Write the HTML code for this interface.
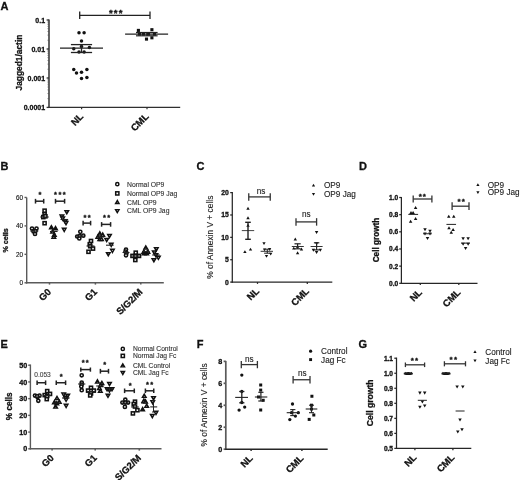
<!DOCTYPE html>
<html><head><meta charset="utf-8"><title>Figure</title>
<style>
html,body{margin:0;padding:0;background:#fff;}
body{width:520px;height:480px;overflow:hidden;}
svg{display:block;filter:blur(0.3px);font-family:"Liberation Sans",Arial,Helvetica,sans-serif;}
</style></head><body>
<svg width="520" height="480" viewBox="0 0 520 480">
<rect width="520" height="480" fill="#fff"/>
<text x="0.5" y="9.5" font-size="11" font-weight="bold" text-anchor="start" fill="#111" stroke="#111" stroke-width="0.3">A</text>
<line x1="49" y1="19.6" x2="49" y2="108" stroke="#303030" stroke-width="1.5"/>
<line x1="46.6" y1="20" x2="49" y2="20" stroke="#303030" stroke-width="1.3"/>
<line x1="46.6" y1="49" x2="49" y2="49" stroke="#303030" stroke-width="1.3"/>
<line x1="46.6" y1="78" x2="49" y2="78" stroke="#303030" stroke-width="1.3"/>
<line x1="46.6" y1="107.4" x2="49" y2="107.4" stroke="#303030" stroke-width="1.3"/>
<line x1="47.6" y1="98.64" x2="49" y2="98.64" stroke="#555" stroke-width="0.9"/>
<line x1="47.6" y1="93.52" x2="49" y2="93.52" stroke="#555" stroke-width="0.9"/>
<line x1="47.6" y1="89.88" x2="49" y2="89.88" stroke="#555" stroke-width="0.9"/>
<line x1="47.6" y1="87.06" x2="49" y2="87.06" stroke="#555" stroke-width="0.9"/>
<line x1="47.6" y1="84.76" x2="49" y2="84.76" stroke="#555" stroke-width="0.9"/>
<line x1="47.6" y1="82.81" x2="49" y2="82.81" stroke="#555" stroke-width="0.9"/>
<line x1="47.6" y1="81.12" x2="49" y2="81.12" stroke="#555" stroke-width="0.9"/>
<line x1="47.6" y1="79.63" x2="49" y2="79.63" stroke="#555" stroke-width="0.9"/>
<line x1="47.6" y1="69.24" x2="49" y2="69.24" stroke="#555" stroke-width="0.9"/>
<line x1="47.6" y1="64.12" x2="49" y2="64.12" stroke="#555" stroke-width="0.9"/>
<line x1="47.6" y1="60.48" x2="49" y2="60.48" stroke="#555" stroke-width="0.9"/>
<line x1="47.6" y1="57.66" x2="49" y2="57.66" stroke="#555" stroke-width="0.9"/>
<line x1="47.6" y1="55.36" x2="49" y2="55.36" stroke="#555" stroke-width="0.9"/>
<line x1="47.6" y1="53.41" x2="49" y2="53.41" stroke="#555" stroke-width="0.9"/>
<line x1="47.6" y1="51.72" x2="49" y2="51.72" stroke="#555" stroke-width="0.9"/>
<line x1="47.6" y1="50.23" x2="49" y2="50.23" stroke="#555" stroke-width="0.9"/>
<line x1="47.6" y1="40.24" x2="49" y2="40.24" stroke="#555" stroke-width="0.9"/>
<line x1="47.6" y1="35.12" x2="49" y2="35.12" stroke="#555" stroke-width="0.9"/>
<line x1="47.6" y1="31.48" x2="49" y2="31.48" stroke="#555" stroke-width="0.9"/>
<line x1="47.6" y1="28.66" x2="49" y2="28.66" stroke="#555" stroke-width="0.9"/>
<line x1="47.6" y1="26.36" x2="49" y2="26.36" stroke="#555" stroke-width="0.9"/>
<line x1="47.6" y1="24.41" x2="49" y2="24.41" stroke="#555" stroke-width="0.9"/>
<line x1="47.6" y1="22.72" x2="49" y2="22.72" stroke="#555" stroke-width="0.9"/>
<line x1="47.6" y1="21.23" x2="49" y2="21.23" stroke="#555" stroke-width="0.9"/>
<text x="45.1" y="22.5" font-size="7" font-weight="bold" text-anchor="end" fill="#111" stroke="#111" stroke-width="0.3">0.1</text>
<text x="45.1" y="51.5" font-size="7" font-weight="bold" text-anchor="end" fill="#111" stroke="#111" stroke-width="0.3">0.01</text>
<text x="45.1" y="80.5" font-size="7" font-weight="bold" text-anchor="end" fill="#111" stroke="#111" stroke-width="0.3">0.001</text>
<text x="45.1" y="109.9" font-size="7" font-weight="bold" text-anchor="end" fill="#111" stroke="#111" stroke-width="0.3">0.0001</text>
<text x="22" y="62.6" font-size="8.4" font-weight="bold" text-anchor="middle" fill="#111" stroke="#111" stroke-width="0.3" transform="rotate(-90 22 62.6)">Jagged1/actin</text>
<line x1="48.4" y1="107.4" x2="180.2" y2="107.4" stroke="#303030" stroke-width="1.2"/>
<line x1="81.6" y1="107.4" x2="81.6" y2="109.2" stroke="#303030" stroke-width="1.2"/>
<line x1="147" y1="107.4" x2="147" y2="109.2" stroke="#303030" stroke-width="1.2"/>
<text x="83.9" y="117.2" font-size="9.5" font-weight="bold" text-anchor="end" fill="#111" stroke="#111" stroke-width="0.3" transform="rotate(-45 83.9 117.2)">NL</text>
<text x="149.3" y="117.2" font-size="9.5" font-weight="bold" text-anchor="end" fill="#111" stroke="#111" stroke-width="0.3" transform="rotate(-45 149.3 117.2)">CML</text>
<line x1="79.7" y1="15.3" x2="150" y2="15.3" stroke="#222" stroke-width="1.3"/>
<line x1="79.7" y1="11.6" x2="79.7" y2="19" stroke="#222" stroke-width="1.3"/>
<line x1="150" y1="11.6" x2="150" y2="19" stroke="#222" stroke-width="1.3"/>
<text x="110.8" y="15.9" font-size="9.6" font-weight="bold" text-anchor="middle" fill="#111" stroke="#111" stroke-width="0.3">*</text>
<text x="115.7" y="15.9" font-size="9.6" font-weight="bold" text-anchor="middle" fill="#111" stroke="#111" stroke-width="0.3">*</text>
<text x="120.6" y="15.9" font-size="9.6" font-weight="bold" text-anchor="middle" fill="#111" stroke="#111" stroke-width="0.3">*</text>
<circle cx="79" cy="32.75" r="1.75" fill="#111"/>
<circle cx="84.1" cy="32.75" r="1.75" fill="#111"/>
<circle cx="81.5" cy="41" r="1.75" fill="#111"/>
<circle cx="81.5" cy="46.5" r="1.75" fill="#111"/>
<circle cx="73.75" cy="48.75" r="1.75" fill="#111"/>
<circle cx="89.4" cy="47.5" r="1.75" fill="#111"/>
<circle cx="79" cy="51.9" r="1.75" fill="#111"/>
<circle cx="84.1" cy="51.9" r="1.75" fill="#111"/>
<circle cx="73.75" cy="69.4" r="1.75" fill="#111"/>
<circle cx="86.9" cy="69.4" r="1.75" fill="#111"/>
<circle cx="76.5" cy="73.1" r="1.75" fill="#111"/>
<circle cx="81.5" cy="72.25" r="1.75" fill="#111"/>
<circle cx="81.5" cy="78.5" r="1.75" fill="#111"/>
<circle cx="86.9" cy="77.5" r="1.75" fill="#111"/>
<line x1="60" y1="48.1" x2="103" y2="48.1" stroke="#222" stroke-width="1.2"/>
<line x1="70.9" y1="44.6" x2="92.1" y2="44.6" stroke="#222" stroke-width="1.3"/>
<line x1="70.9" y1="52.5" x2="92.1" y2="52.5" stroke="#222" stroke-width="1.3"/>
<line x1="81.5" y1="44.6" x2="81.5" y2="52.5" stroke="#222" stroke-width="1.3"/>
<rect x="136.85" y="28.85" width="3.1" height="3.1" fill="#111"/>
<rect x="150.35" y="28.15" width="3.1" height="3.1" fill="#111"/>
<rect x="150.35" y="36.25" width="3.1" height="3.1" fill="#111"/>
<rect x="144.95" y="37.55" width="3.1" height="3.1" fill="#111"/>
<rect x="137.95" y="32.55" width="3.1" height="3.1" fill="#111"/>
<rect x="141.95" y="32.55" width="3.1" height="3.1" fill="#111"/>
<rect x="146.95" y="32.55" width="3.1" height="3.1" fill="#111"/>
<rect x="152.95" y="32.55" width="3.1" height="3.1" fill="#111"/>
<line x1="125.1" y1="34.1" x2="168.1" y2="34.1" stroke="#222" stroke-width="1.2"/>
<line x1="136" y1="32.5" x2="157.6" y2="32.5" stroke="#222" stroke-width="1.2"/>
<line x1="136" y1="35.8" x2="157.6" y2="35.8" stroke="#222" stroke-width="1.2"/>
<line x1="146.8" y1="32.5" x2="146.8" y2="35.8" stroke="#222" stroke-width="1.2"/>
<text x="0.6" y="170.3" font-size="11" font-weight="bold" text-anchor="start" fill="#111" stroke="#111" stroke-width="0.3">B</text>
<line x1="26.7" y1="197.6" x2="26.7" y2="283.4" stroke="#5a5a5a" stroke-width="1.4"/>
<line x1="24.5" y1="197.45" x2="26.7" y2="197.45" stroke="#5a5a5a" stroke-width="1.4"/>
<text x="23.05" y="199.71" font-size="6.3" text-anchor="end" fill="#111" stroke="#111" stroke-width="0.12">60</text>
<line x1="24.5" y1="225.9" x2="26.7" y2="225.9" stroke="#5a5a5a" stroke-width="1.4"/>
<text x="23.05" y="228.16" font-size="6.3" text-anchor="end" fill="#111" stroke="#111" stroke-width="0.12">40</text>
<line x1="24.5" y1="254.35" x2="26.7" y2="254.35" stroke="#5a5a5a" stroke-width="1.4"/>
<text x="23.05" y="256.61" font-size="6.3" text-anchor="end" fill="#111" stroke="#111" stroke-width="0.12">20</text>
<line x1="24.5" y1="282.8" x2="26.7" y2="282.8" stroke="#5a5a5a" stroke-width="1.4"/>
<text x="23.05" y="285.06" font-size="6.3" text-anchor="end" fill="#111" stroke="#111" stroke-width="0.12">0</text>
<text x="8.2" y="240.4" font-size="7.2" font-weight="bold" text-anchor="middle" fill="#111" stroke="#111" stroke-width="0.3" transform="rotate(-90 8.2 240.4)">% cells</text>
<line x1="26.1" y1="282.8" x2="163.8" y2="282.8" stroke="#5a5a5a" stroke-width="1.5"/>
<line x1="49.5" y1="282.8" x2="49.5" y2="284.6" stroke="#5a5a5a" stroke-width="1.5"/>
<line x1="95.4" y1="282.8" x2="95.4" y2="284.6" stroke="#5a5a5a" stroke-width="1.5"/>
<line x1="140.8" y1="282.8" x2="140.8" y2="284.6" stroke="#5a5a5a" stroke-width="1.5"/>
<text x="51.8" y="292.6" font-size="9.5" font-weight="bold" text-anchor="end" fill="#111" stroke="#111" stroke-width="0.3" transform="rotate(-45 51.8 292.6)">G0</text>
<text x="97.7" y="292.6" font-size="9.5" font-weight="bold" text-anchor="end" fill="#111" stroke="#111" stroke-width="0.3" transform="rotate(-45 97.7 292.6)">G1</text>
<text x="143.1" y="292.6" font-size="9.5" font-weight="bold" text-anchor="end" fill="#111" stroke="#111" stroke-width="0.3" transform="rotate(-45 143.1 292.6)">S/G2/M</text>
<line x1="35.5" y1="201.2" x2="43.7" y2="201.2" stroke="#222" stroke-width="1.5"/>
<line x1="35.5" y1="198.85" x2="35.5" y2="203.55" stroke="#222" stroke-width="1.5"/>
<line x1="43.7" y1="198.85" x2="43.7" y2="203.55" stroke="#222" stroke-width="1.5"/>
<text x="39.9" y="197.22" font-size="7.5" font-weight="bold" text-anchor="middle" fill="#111" stroke="#111" stroke-width="0.3">*</text>
<line x1="55.5" y1="201.2" x2="64.6" y2="201.2" stroke="#222" stroke-width="1.5"/>
<line x1="55.5" y1="198.85" x2="55.5" y2="203.55" stroke="#222" stroke-width="1.5"/>
<line x1="64.6" y1="198.85" x2="64.6" y2="203.55" stroke="#222" stroke-width="1.5"/>
<text x="55.5" y="197.32" font-size="7.5" font-weight="bold" text-anchor="middle" fill="#111" stroke="#111" stroke-width="0.3">*</text>
<text x="59.85" y="197.32" font-size="7.5" font-weight="bold" text-anchor="middle" fill="#111" stroke="#111" stroke-width="0.3">*</text>
<text x="64.2" y="197.32" font-size="7.5" font-weight="bold" text-anchor="middle" fill="#111" stroke="#111" stroke-width="0.3">*</text>
<line x1="83.1" y1="223.1" x2="90.6" y2="223.1" stroke="#222" stroke-width="1.5"/>
<line x1="83.1" y1="220.8" x2="83.1" y2="225.4" stroke="#222" stroke-width="1.5"/>
<line x1="90.6" y1="220.8" x2="90.6" y2="225.4" stroke="#222" stroke-width="1.5"/>
<text x="84.85" y="220.12" font-size="7.5" font-weight="bold" text-anchor="middle" fill="#111" stroke="#111" stroke-width="0.3">*</text>
<text x="89.15" y="220.12" font-size="7.5" font-weight="bold" text-anchor="middle" fill="#111" stroke="#111" stroke-width="0.3">*</text>
<line x1="101.6" y1="224.4" x2="110.6" y2="224.4" stroke="#222" stroke-width="1.5"/>
<line x1="101.6" y1="222.1" x2="101.6" y2="226.7" stroke="#222" stroke-width="1.5"/>
<line x1="110.6" y1="222.1" x2="110.6" y2="226.7" stroke="#222" stroke-width="1.5"/>
<text x="104.35" y="220.12" font-size="7.5" font-weight="bold" text-anchor="middle" fill="#111" stroke="#111" stroke-width="0.3">*</text>
<text x="108.65" y="220.12" font-size="7.5" font-weight="bold" text-anchor="middle" fill="#111" stroke="#111" stroke-width="0.3">*</text>
<circle cx="117.3" cy="184.2" r="1.6" fill="#fff" stroke="#111" stroke-width="1.5"/>
<text x="127" y="186.6" font-size="6.8" text-anchor="start" fill="#333" stroke="#333" stroke-width="0.12">Normal OP9</text>
<rect x="115.7" y="191.8" width="3.2" height="3.2" fill="#fff" stroke="#111" stroke-width="1.5"/>
<text x="127" y="195.8" font-size="6.8" text-anchor="start" fill="#333" stroke="#333" stroke-width="0.12">Normal OP9 Jag</text>
<polygon points="117.3,200.53 115.6,203.48 119,203.48" fill="#fff" stroke="#111" stroke-width="1.45" stroke-linejoin="miter"/>
<text x="127" y="204.7" font-size="6.8" text-anchor="start" fill="#333" stroke="#333" stroke-width="0.12">CML OP9</text>
<polygon points="117.3,212.57 115.6,209.62 119,209.62" fill="#fff" stroke="#111" stroke-width="1.45" stroke-linejoin="miter"/>
<text x="127" y="213.2" font-size="6.8" text-anchor="start" fill="#333" stroke="#333" stroke-width="0.12">CML OP9 Jag</text>
<circle cx="32" cy="228.5" r="1.6" fill="#fff" stroke="#111" stroke-width="1.55"/>
<circle cx="36.5" cy="228.5" r="1.6" fill="#fff" stroke="#111" stroke-width="1.55"/>
<circle cx="33.5" cy="231.5" r="1.6" fill="#fff" stroke="#111" stroke-width="1.55"/>
<circle cx="35.5" cy="231" r="1.6" fill="#fff" stroke="#111" stroke-width="1.55"/>
<circle cx="35" cy="234" r="1.6" fill="#fff" stroke="#111" stroke-width="1.55"/>
<rect x="43.05" y="209.15" width="3.1" height="3.1" fill="#fff" stroke="#111" stroke-width="1.55"/>
<rect x="43.05" y="212.75" width="3.1" height="3.1" fill="#fff" stroke="#111" stroke-width="1.55"/>
<rect x="41.75" y="215.55" width="3.1" height="3.1" fill="#fff" stroke="#111" stroke-width="1.55"/>
<rect x="43.85" y="214.75" width="3.1" height="3.1" fill="#fff" stroke="#111" stroke-width="1.55"/>
<rect x="43.05" y="221.65" width="3.1" height="3.1" fill="#fff" stroke="#111" stroke-width="1.55"/>
<polygon points="51.4,225.72 49.6,228.85 53.2,228.85" fill="#fff" stroke="#111" stroke-width="1.47" stroke-linejoin="miter"/>
<polygon points="55.5,226.52 53.7,229.65 57.3,229.65" fill="#fff" stroke="#111" stroke-width="1.47" stroke-linejoin="miter"/>
<polygon points="52.6,229.82 50.8,232.95 54.4,232.95" fill="#fff" stroke="#111" stroke-width="1.47" stroke-linejoin="miter"/>
<polygon points="54.3,233.02 52.5,236.15 56.1,236.15" fill="#fff" stroke="#111" stroke-width="1.47" stroke-linejoin="miter"/>
<polygon points="53.8,235.02 52,238.15 55.6,238.15" fill="#fff" stroke="#111" stroke-width="1.47" stroke-linejoin="miter"/>
<polygon points="66.8,213.78 65,210.65 68.6,210.65" fill="#fff" stroke="#111" stroke-width="1.47" stroke-linejoin="miter"/>
<polygon points="61.9,218.18 60.1,215.05 63.7,215.05" fill="#fff" stroke="#111" stroke-width="1.47" stroke-linejoin="miter"/>
<polygon points="62.7,220.18 60.9,217.05 64.5,217.05" fill="#fff" stroke="#111" stroke-width="1.47" stroke-linejoin="miter"/>
<polygon points="65.2,223.08 63.4,219.95 67,219.95" fill="#fff" stroke="#111" stroke-width="1.47" stroke-linejoin="miter"/>
<polygon points="66,224.68 64.2,221.55 67.8,221.55" fill="#fff" stroke="#111" stroke-width="1.47" stroke-linejoin="miter"/>
<polygon points="64.2,231.48 62.4,228.35 66,228.35" fill="#fff" stroke="#111" stroke-width="1.47" stroke-linejoin="miter"/>
<line x1="40.3" y1="217" x2="48.7" y2="217" stroke="#222" stroke-width="1.1"/>
<line x1="30.3" y1="231" x2="38.3" y2="231" stroke="#222" stroke-width="1.1"/>
<line x1="50" y1="231.5" x2="57.6" y2="231.5" stroke="#222" stroke-width="1.1"/>
<line x1="60.5" y1="219.5" x2="68.1" y2="219.5" stroke="#222" stroke-width="1.1"/>
<circle cx="80.3" cy="231.8" r="1.6" fill="#fff" stroke="#111" stroke-width="1.55"/>
<circle cx="77.2" cy="236.5" r="1.6" fill="#fff" stroke="#111" stroke-width="1.55"/>
<circle cx="79.7" cy="236.1" r="1.6" fill="#fff" stroke="#111" stroke-width="1.55"/>
<circle cx="83.3" cy="235.7" r="1.6" fill="#fff" stroke="#111" stroke-width="1.55"/>
<circle cx="79.3" cy="238.5" r="1.6" fill="#fff" stroke="#111" stroke-width="1.55"/>
<rect x="89.45" y="239.45" width="3.1" height="3.1" fill="#fff" stroke="#111" stroke-width="1.55"/>
<rect x="88.25" y="242.65" width="3.1" height="3.1" fill="#fff" stroke="#111" stroke-width="1.55"/>
<rect x="88.65" y="244.65" width="3.1" height="3.1" fill="#fff" stroke="#111" stroke-width="1.55"/>
<rect x="91.45" y="247.05" width="3.1" height="3.1" fill="#fff" stroke="#111" stroke-width="1.55"/>
<rect x="86.95" y="250.25" width="3.1" height="3.1" fill="#fff" stroke="#111" stroke-width="1.55"/>
<polygon points="99.8,231.82 98,234.95 101.6,234.95" fill="#fff" stroke="#111" stroke-width="1.47" stroke-linejoin="miter"/>
<polygon points="102.7,233.02 100.9,236.15 104.5,236.15" fill="#fff" stroke="#111" stroke-width="1.47" stroke-linejoin="miter"/>
<polygon points="97.8,235.02 96,238.15 99.6,238.15" fill="#fff" stroke="#111" stroke-width="1.47" stroke-linejoin="miter"/>
<polygon points="99.8,237.42 98,240.55 101.6,240.55" fill="#fff" stroke="#111" stroke-width="1.47" stroke-linejoin="miter"/>
<polygon points="101.5,237.42 99.7,240.55 103.3,240.55" fill="#fff" stroke="#111" stroke-width="1.47" stroke-linejoin="miter"/>
<polygon points="109.5,237.58 107.7,234.45 111.3,234.45" fill="#fff" stroke="#111" stroke-width="1.47" stroke-linejoin="miter"/>
<polygon points="106.7,241.58 104.9,238.45 108.5,238.45" fill="#fff" stroke="#111" stroke-width="1.47" stroke-linejoin="miter"/>
<polygon points="111.2,246.48 109.4,243.35 113,243.35" fill="#fff" stroke="#111" stroke-width="1.47" stroke-linejoin="miter"/>
<polygon points="112.4,252.48 110.6,249.35 114.2,249.35" fill="#fff" stroke="#111" stroke-width="1.47" stroke-linejoin="miter"/>
<polygon points="108.3,255.78 106.5,252.65 110.1,252.65" fill="#fff" stroke="#111" stroke-width="1.47" stroke-linejoin="miter"/>
<line x1="76" y1="236" x2="84" y2="236" stroke="#222" stroke-width="1.1"/>
<line x1="86.5" y1="246" x2="94.5" y2="246" stroke="#222" stroke-width="1.1"/>
<line x1="96.5" y1="237" x2="104.1" y2="237" stroke="#222" stroke-width="1.1"/>
<line x1="106" y1="245.2" x2="113.6" y2="245.2" stroke="#222" stroke-width="1.1"/>
<circle cx="126" cy="249.5" r="1.6" fill="#fff" stroke="#111" stroke-width="1.55"/>
<circle cx="125.5" cy="251.5" r="1.6" fill="#fff" stroke="#111" stroke-width="1.55"/>
<circle cx="126.5" cy="253" r="1.6" fill="#fff" stroke="#111" stroke-width="1.55"/>
<circle cx="126" cy="255.3" r="1.6" fill="#fff" stroke="#111" stroke-width="1.55"/>
<rect x="134.2" y="251.15" width="3.1" height="3.1" fill="#fff" stroke="#111" stroke-width="1.55"/>
<rect x="130.95" y="254.35" width="3.1" height="3.1" fill="#fff" stroke="#111" stroke-width="1.55"/>
<rect x="137.45" y="254.35" width="3.1" height="3.1" fill="#fff" stroke="#111" stroke-width="1.55"/>
<rect x="133.75" y="258.45" width="3.1" height="3.1" fill="#fff" stroke="#111" stroke-width="1.55"/>
<rect x="133.95" y="254.45" width="3.1" height="3.1" fill="#fff" stroke="#111" stroke-width="1.55"/>
<polygon points="145.8,245.92 144,249.05 147.6,249.05" fill="#fff" stroke="#111" stroke-width="1.47" stroke-linejoin="miter"/>
<polygon points="143.8,250.02 142,253.15 145.6,253.15" fill="#fff" stroke="#111" stroke-width="1.47" stroke-linejoin="miter"/>
<polygon points="147.9,250.02 146.1,253.15 149.7,253.15" fill="#fff" stroke="#111" stroke-width="1.47" stroke-linejoin="miter"/>
<polygon points="144.2,251.62 142.4,254.75 146,254.75" fill="#fff" stroke="#111" stroke-width="1.47" stroke-linejoin="miter"/>
<polygon points="146.7,251.62 144.9,254.75 148.5,254.75" fill="#fff" stroke="#111" stroke-width="1.47" stroke-linejoin="miter"/>
<polygon points="156.3,250.98 154.5,247.85 158.1,247.85" fill="#fff" stroke="#111" stroke-width="1.47" stroke-linejoin="miter"/>
<polygon points="154.3,254.18 152.5,251.05 156.1,251.05" fill="#fff" stroke="#111" stroke-width="1.47" stroke-linejoin="miter"/>
<polygon points="155.9,256.98 154.1,253.85 157.7,253.85" fill="#fff" stroke="#111" stroke-width="1.47" stroke-linejoin="miter"/>
<polygon points="158.4,259.38 156.6,256.25 160.2,256.25" fill="#fff" stroke="#111" stroke-width="1.47" stroke-linejoin="miter"/>
<polygon points="153.9,261.88 152.1,258.75 155.7,258.75" fill="#fff" stroke="#111" stroke-width="1.47" stroke-linejoin="miter"/>
<line x1="122.5" y1="252.5" x2="129.5" y2="252.5" stroke="#222" stroke-width="1.1"/>
<line x1="131.7" y1="256" x2="139.7" y2="256" stroke="#222" stroke-width="1.1"/>
<line x1="142" y1="251.5" x2="149.6" y2="251.5" stroke="#222" stroke-width="1.1"/>
<line x1="152.2" y1="255" x2="159.8" y2="255" stroke="#222" stroke-width="1.1"/>
<text x="196.4" y="170.3" font-size="11" font-weight="bold" text-anchor="start" fill="#111" stroke="#111" stroke-width="0.3">C</text>
<line x1="232.3" y1="192.1" x2="232.3" y2="282.7" stroke="#262626" stroke-width="1.25"/>
<line x1="230.2" y1="192.6" x2="232.3" y2="192.6" stroke="#262626" stroke-width="1.25"/>
<text x="228.87" y="195.03" font-size="6.8" font-weight="bold" text-anchor="end" fill="#111" stroke="#111" stroke-width="0.3">20</text>
<line x1="230.2" y1="214.98" x2="232.3" y2="214.98" stroke="#262626" stroke-width="1.25"/>
<text x="228.87" y="217.41" font-size="6.8" font-weight="bold" text-anchor="end" fill="#111" stroke="#111" stroke-width="0.3">15</text>
<line x1="230.2" y1="237.35" x2="232.3" y2="237.35" stroke="#262626" stroke-width="1.25"/>
<text x="228.87" y="239.78" font-size="6.8" font-weight="bold" text-anchor="end" fill="#111" stroke="#111" stroke-width="0.3">10</text>
<line x1="230.2" y1="259.73" x2="232.3" y2="259.73" stroke="#262626" stroke-width="1.25"/>
<text x="228.87" y="262.16" font-size="6.8" font-weight="bold" text-anchor="end" fill="#111" stroke="#111" stroke-width="0.3">5</text>
<line x1="230.2" y1="282.1" x2="232.3" y2="282.1" stroke="#262626" stroke-width="1.25"/>
<text x="228.87" y="284.53" font-size="6.8" font-weight="bold" text-anchor="end" fill="#111" stroke="#111" stroke-width="0.3">0</text>
<text x="213.3" y="237.2" font-size="8.4" text-anchor="middle" fill="#222" stroke="#222" stroke-width="0.12" transform="rotate(-90 213.3 237.2)">% of Annexin V + cells</text>
<line x1="231.7" y1="282.1" x2="332.3" y2="282.1" stroke="#262626" stroke-width="1.25"/>
<line x1="257.5" y1="282.1" x2="257.5" y2="283.9" stroke="#262626" stroke-width="1.25"/>
<line x1="307.3" y1="282.1" x2="307.3" y2="283.9" stroke="#262626" stroke-width="1.25"/>
<text x="259.8" y="291.9" font-size="9.5" font-weight="bold" text-anchor="end" fill="#111" stroke="#111" stroke-width="0.3" transform="rotate(-45 259.8 291.9)">NL</text>
<text x="309.6" y="291.9" font-size="9.5" font-weight="bold" text-anchor="end" fill="#111" stroke="#111" stroke-width="0.3" transform="rotate(-45 309.6 291.9)">CML</text>
<line x1="248.75" y1="196.9" x2="270.25" y2="196.9" stroke="#333" stroke-width="1.3"/>
<line x1="248.75" y1="193.15" x2="248.75" y2="200.65" stroke="#333" stroke-width="1.3"/>
<line x1="270.25" y1="193.15" x2="270.25" y2="200.65" stroke="#333" stroke-width="1.3"/>
<text x="261" y="193.6" font-size="8.2" text-anchor="middle" fill="#222" stroke="#222" stroke-width="0.12">ns</text>
<line x1="296" y1="221.9" x2="316.6" y2="221.9" stroke="#333" stroke-width="1.3"/>
<line x1="296" y1="218.15" x2="296" y2="225.65" stroke="#333" stroke-width="1.3"/>
<line x1="316.6" y1="218.15" x2="316.6" y2="225.65" stroke="#333" stroke-width="1.3"/>
<text x="306.3" y="217.1" font-size="8.2" text-anchor="middle" fill="#222" stroke="#222" stroke-width="0.12">ns</text>
<polygon points="313.5,183.83 311.9,186.61 315.1,186.61" fill="#111"/>
<text x="324" y="188.4" font-size="8.2" text-anchor="start" fill="#222" stroke="#222" stroke-width="0.12">OP9</text>
<polygon points="313.5,195.67 311.9,192.89 315.1,192.89" fill="#111"/>
<text x="324" y="196.9" font-size="8.2" text-anchor="start" fill="#222" stroke="#222" stroke-width="0.12">OP9 Jag</text>
<polygon points="248,206.73 246.3,209.68 249.7,209.68" fill="#111"/>
<polygon points="248,216.33 246.3,219.28 249.7,219.28" fill="#111"/>
<polygon points="244.9,250.13 243.2,253.08 246.6,253.08" fill="#111"/>
<polygon points="250.5,247.63 248.8,250.58 252.2,250.58" fill="#111"/>
<polygon points="248,223.73 246.3,226.68 249.7,226.68" fill="#111"/>
<line x1="241.8" y1="230.6" x2="254.2" y2="230.6" stroke="#444" stroke-width="1"/>
<line x1="245.2" y1="222.3" x2="250.8" y2="222.3" stroke="#222" stroke-width="1.4"/>
<line x1="245.2" y1="239.3" x2="250.8" y2="239.3" stroke="#222" stroke-width="1.4"/>
<line x1="248" y1="222.3" x2="248" y2="239.3" stroke="#222" stroke-width="1.4"/>
<polygon points="264,245.02 262.35,242.15 265.65,242.15" fill="#111"/>
<polygon points="264.5,251.32 262.85,248.45 266.15,248.45" fill="#111"/>
<polygon points="269.6,250.92 267.95,248.05 271.25,248.05" fill="#111"/>
<polygon points="266.5,257.82 264.85,254.95 268.15,254.95" fill="#111"/>
<polygon points="270.7,255.52 269.05,252.65 272.35,252.65" fill="#111"/>
<line x1="260.6" y1="251.3" x2="273" y2="251.3" stroke="#333" stroke-width="1"/>
<line x1="264.1" y1="249.2" x2="270.5" y2="249.2" stroke="#222" stroke-width="1"/>
<line x1="264.1" y1="253.2" x2="270.5" y2="253.2" stroke="#222" stroke-width="1"/>
<line x1="267.3" y1="249.2" x2="267.3" y2="253.2" stroke="#222" stroke-width="1"/>
<polygon points="295.3,237.43 293.6,240.38 297,240.38" fill="#111"/>
<polygon points="293.8,246.63 292.1,249.58 295.5,249.58" fill="#111"/>
<polygon points="301.5,247.43 299.8,250.38 303.2,250.38" fill="#111"/>
<polygon points="297.6,251.23 295.9,254.18 299.3,254.18" fill="#111"/>
<polygon points="297.5,244.73 295.8,247.68 299.2,247.68" fill="#111"/>
<line x1="291.8" y1="246.5" x2="303.8" y2="246.5" stroke="#333" stroke-width="1"/>
<line x1="294.5" y1="243.8" x2="300.7" y2="243.8" stroke="#222" stroke-width="1.2"/>
<line x1="294.5" y1="248.8" x2="300.7" y2="248.8" stroke="#222" stroke-width="1.2"/>
<line x1="297.6" y1="243.8" x2="297.6" y2="248.8" stroke="#222" stroke-width="1.2"/>
<polygon points="316.6,233.97 314.9,231.02 318.3,231.02" fill="#111"/>
<polygon points="313.4,251.67 311.7,248.72 315.1,248.72" fill="#111"/>
<polygon points="320.3,251.67 318.6,248.72 322,248.72" fill="#111"/>
<polygon points="316.6,253.97 314.9,251.02 318.3,251.02" fill="#111"/>
<polygon points="316.6,245.27 314.9,242.32 318.3,242.32" fill="#111"/>
<line x1="310.6" y1="246.5" x2="322.6" y2="246.5" stroke="#333" stroke-width="1"/>
<line x1="313.9" y1="242.8" x2="319.3" y2="242.8" stroke="#222" stroke-width="1.2"/>
<line x1="313.9" y1="249.9" x2="319.3" y2="249.9" stroke="#222" stroke-width="1.2"/>
<line x1="316.6" y1="242.8" x2="316.6" y2="249.9" stroke="#222" stroke-width="1.2"/>
<text x="359" y="170.3" font-size="11" font-weight="bold" text-anchor="start" fill="#111" stroke="#111" stroke-width="0.3">D</text>
<line x1="401.4" y1="197" x2="401.4" y2="283.9" stroke="#262626" stroke-width="1.25"/>
<line x1="399.2" y1="197.5" x2="401.4" y2="197.5" stroke="#262626" stroke-width="1.25"/>
<text x="398.16" y="199.86" font-size="6.6" font-weight="bold" text-anchor="end" fill="#111" stroke="#111" stroke-width="0.3">1.0</text>
<line x1="399.2" y1="214.66" x2="401.4" y2="214.66" stroke="#262626" stroke-width="1.25"/>
<text x="398.16" y="217.02" font-size="6.6" font-weight="bold" text-anchor="end" fill="#111" stroke="#111" stroke-width="0.3">0.8</text>
<line x1="399.2" y1="231.82" x2="401.4" y2="231.82" stroke="#262626" stroke-width="1.25"/>
<text x="398.16" y="234.18" font-size="6.6" font-weight="bold" text-anchor="end" fill="#111" stroke="#111" stroke-width="0.3">0.6</text>
<line x1="399.2" y1="248.98" x2="401.4" y2="248.98" stroke="#262626" stroke-width="1.25"/>
<text x="398.16" y="251.34" font-size="6.6" font-weight="bold" text-anchor="end" fill="#111" stroke="#111" stroke-width="0.3">0.4</text>
<line x1="399.2" y1="266.14" x2="401.4" y2="266.14" stroke="#262626" stroke-width="1.25"/>
<text x="398.16" y="268.5" font-size="6.6" font-weight="bold" text-anchor="end" fill="#111" stroke="#111" stroke-width="0.3">0.2</text>
<line x1="399.2" y1="283.3" x2="401.4" y2="283.3" stroke="#262626" stroke-width="1.25"/>
<text x="398.16" y="285.66" font-size="6.6" font-weight="bold" text-anchor="end" fill="#111" stroke="#111" stroke-width="0.3">0.0</text>
<text x="378.6" y="240" font-size="8.2" font-weight="bold" text-anchor="middle" fill="#111" stroke="#111" stroke-width="0.3" transform="rotate(-90 378.6 240)">Cell growth</text>
<line x1="400.8" y1="283.3" x2="477.5" y2="283.3" stroke="#262626" stroke-width="1.25"/>
<line x1="420.3" y1="283.3" x2="420.3" y2="285.1" stroke="#262626" stroke-width="1.25"/>
<line x1="458.8" y1="283.3" x2="458.8" y2="285.1" stroke="#262626" stroke-width="1.25"/>
<text x="422.6" y="293.1" font-size="9.5" font-weight="bold" text-anchor="end" fill="#111" stroke="#111" stroke-width="0.3" transform="rotate(-45 422.6 293.1)">NL</text>
<text x="461.1" y="293.1" font-size="9.5" font-weight="bold" text-anchor="end" fill="#111" stroke="#111" stroke-width="0.3" transform="rotate(-45 461.1 293.1)">CML</text>
<line x1="413.2" y1="199" x2="431.9" y2="199" stroke="#333" stroke-width="1.3"/>
<line x1="413.2" y1="195.55" x2="413.2" y2="202.45" stroke="#333" stroke-width="1.3"/>
<line x1="431.9" y1="195.55" x2="431.9" y2="202.45" stroke="#333" stroke-width="1.3"/>
<text x="420.4" y="198.98" font-size="8" font-weight="bold" text-anchor="middle" fill="#111" stroke="#111" stroke-width="0.3">*</text>
<text x="424.4" y="198.98" font-size="8" font-weight="bold" text-anchor="middle" fill="#111" stroke="#111" stroke-width="0.3">*</text>
<line x1="452.1" y1="206.2" x2="469" y2="206.2" stroke="#333" stroke-width="1.3"/>
<line x1="452.1" y1="202.35" x2="452.1" y2="210.05" stroke="#333" stroke-width="1.3"/>
<line x1="469" y1="202.35" x2="469" y2="210.05" stroke="#333" stroke-width="1.3"/>
<text x="458.95" y="204.18" font-size="8" font-weight="bold" text-anchor="middle" fill="#111" stroke="#111" stroke-width="0.3">*</text>
<text x="463.25" y="204.18" font-size="8" font-weight="bold" text-anchor="middle" fill="#111" stroke="#111" stroke-width="0.3">*</text>
<polygon points="477.9,183.13 476.3,185.91 479.5,185.91" fill="#111"/>
<text x="487.75" y="187.7" font-size="8.2" text-anchor="start" fill="#222" stroke="#222" stroke-width="0.12">OP9</text>
<polygon points="477.9,194.07 476.3,191.29 479.5,191.29" fill="#111"/>
<text x="487.75" y="195.3" font-size="8.2" text-anchor="start" fill="#222" stroke="#222" stroke-width="0.12">OP9 Jag</text>
<polygon points="415.6,206.07 413.85,209.12 417.35,209.12" fill="#111"/>
<polygon points="411,210.92 409.25,213.97 412.75,213.97" fill="#111"/>
<polygon points="413.1,210.92 411.35,213.97 414.85,213.97" fill="#111"/>
<polygon points="415.6,216.92 413.85,219.97 417.35,219.97" fill="#111"/>
<polygon points="410.6,219.67 408.85,222.72 412.35,222.72" fill="#111"/>
<line x1="408.3" y1="214.4" x2="418.1" y2="214.4" stroke="#222" stroke-width="1"/>
<polygon points="425,231.23 423.25,228.18 426.75,228.18" fill="#111"/>
<polygon points="430,232.83 428.25,229.78 431.75,229.78" fill="#111"/>
<polygon points="425,235.58 423.25,232.53 426.75,232.53" fill="#111"/>
<polygon points="430,235.58 428.25,232.53 431.75,232.53" fill="#111"/>
<polygon points="427.5,239.93 425.75,236.88 429.25,236.88" fill="#111"/>
<line x1="423" y1="233.75" x2="431.8" y2="233.75" stroke="#222" stroke-width="1"/>
<polygon points="448.75,214.67 447,217.72 450.5,217.72" fill="#111"/>
<polygon points="453.75,214.67 452,217.72 455.5,217.72" fill="#111"/>
<polygon points="449,226.27 447.25,229.32 450.75,229.32" fill="#111"/>
<polygon points="453.1,227.92 451.35,230.97 454.85,230.97" fill="#111"/>
<polygon points="451.25,230.67 449.5,233.72 453,233.72" fill="#111"/>
<line x1="446.45" y1="224.4" x2="456.05" y2="224.4" stroke="#222" stroke-width="1"/>
<polygon points="463.1,240.33 461.35,237.28 464.85,237.28" fill="#111"/>
<polygon points="468.1,240.33 466.35,237.28 469.85,237.28" fill="#111"/>
<polygon points="463.1,245.83 461.35,242.78 464.85,242.78" fill="#111"/>
<polygon points="468.1,245.83 466.35,242.78 469.85,242.78" fill="#111"/>
<polygon points="465.6,249.93 463.85,246.88 467.35,246.88" fill="#111"/>
<line x1="461" y1="243.1" x2="470" y2="243.1" stroke="#222" stroke-width="1"/>
<text x="0.6" y="348.2" font-size="11" font-weight="bold" text-anchor="start" fill="#111" stroke="#111" stroke-width="0.3">E</text>
<line x1="30.4" y1="364.5" x2="30.4" y2="449.4" stroke="#5a5a5a" stroke-width="1.4"/>
<line x1="28.2" y1="365.2" x2="30.4" y2="365.2" stroke="#5a5a5a" stroke-width="1.4"/>
<text x="27.19" y="367.78" font-size="7.2" font-weight="bold" text-anchor="end" fill="#111" stroke="#111" stroke-width="0.3">50</text>
<line x1="28.2" y1="381.92" x2="30.4" y2="381.92" stroke="#5a5a5a" stroke-width="1.4"/>
<text x="27.19" y="384.5" font-size="7.2" font-weight="bold" text-anchor="end" fill="#111" stroke="#111" stroke-width="0.3">40</text>
<line x1="28.2" y1="398.64" x2="30.4" y2="398.64" stroke="#5a5a5a" stroke-width="1.4"/>
<text x="27.19" y="401.22" font-size="7.2" font-weight="bold" text-anchor="end" fill="#111" stroke="#111" stroke-width="0.3">30</text>
<line x1="28.2" y1="415.36" x2="30.4" y2="415.36" stroke="#5a5a5a" stroke-width="1.4"/>
<text x="27.19" y="417.94" font-size="7.2" font-weight="bold" text-anchor="end" fill="#111" stroke="#111" stroke-width="0.3">20</text>
<line x1="28.2" y1="432.08" x2="30.4" y2="432.08" stroke="#5a5a5a" stroke-width="1.4"/>
<text x="27.19" y="434.66" font-size="7.2" font-weight="bold" text-anchor="end" fill="#111" stroke="#111" stroke-width="0.3">10</text>
<line x1="28.2" y1="448.8" x2="30.4" y2="448.8" stroke="#5a5a5a" stroke-width="1.4"/>
<text x="27.19" y="451.38" font-size="7.2" font-weight="bold" text-anchor="end" fill="#111" stroke="#111" stroke-width="0.3">0</text>
<text x="11.8" y="406.25" font-size="8.2" font-weight="bold" text-anchor="middle" fill="#111" stroke="#111" stroke-width="0.3" transform="rotate(-90 11.8 406.25)">% cells</text>
<line x1="29.8" y1="448.8" x2="161.5" y2="448.8" stroke="#5a5a5a" stroke-width="1.6"/>
<line x1="52.1" y1="448.8" x2="52.1" y2="450.6" stroke="#5a5a5a" stroke-width="1.6"/>
<line x1="95.2" y1="448.8" x2="95.2" y2="450.6" stroke="#5a5a5a" stroke-width="1.6"/>
<line x1="139.3" y1="448.8" x2="139.3" y2="450.6" stroke="#5a5a5a" stroke-width="1.6"/>
<text x="54.4" y="458.6" font-size="9.5" font-weight="bold" text-anchor="end" fill="#111" stroke="#111" stroke-width="0.3" transform="rotate(-45 54.4 458.6)">G0</text>
<text x="97.5" y="458.6" font-size="9.5" font-weight="bold" text-anchor="end" fill="#111" stroke="#111" stroke-width="0.3" transform="rotate(-45 97.5 458.6)">G1</text>
<text x="141.6" y="458.6" font-size="9.5" font-weight="bold" text-anchor="end" fill="#111" stroke="#111" stroke-width="0.3" transform="rotate(-45 141.6 458.6)">S/G2/M</text>
<line x1="37.1" y1="382.75" x2="45.6" y2="382.75" stroke="#222" stroke-width="1.5"/>
<line x1="37.1" y1="380.45" x2="37.1" y2="385.05" stroke="#222" stroke-width="1.5"/>
<line x1="45.6" y1="380.45" x2="45.6" y2="385.05" stroke="#222" stroke-width="1.5"/>
<text x="42.5" y="377" font-size="6.6" text-anchor="middle" fill="#444" stroke="#444" stroke-width="0.12">0.053</text>
<line x1="56.25" y1="382.75" x2="65.6" y2="382.75" stroke="#222" stroke-width="1.5"/>
<line x1="56.25" y1="380.45" x2="56.25" y2="385.05" stroke="#222" stroke-width="1.5"/>
<line x1="65.6" y1="380.45" x2="65.6" y2="385.05" stroke="#222" stroke-width="1.5"/>
<text x="61.25" y="378.82" font-size="7.5" font-weight="bold" text-anchor="middle" fill="#111" stroke="#111" stroke-width="0.3">*</text>
<line x1="80.8" y1="369.6" x2="90.4" y2="369.6" stroke="#222" stroke-width="1.5"/>
<line x1="80.8" y1="367.5" x2="80.8" y2="371.7" stroke="#222" stroke-width="1.5"/>
<line x1="90.4" y1="367.5" x2="90.4" y2="371.7" stroke="#222" stroke-width="1.5"/>
<text x="83.1" y="365.02" font-size="7.5" font-weight="bold" text-anchor="middle" fill="#111" stroke="#111" stroke-width="0.3">*</text>
<text x="87.3" y="365.02" font-size="7.5" font-weight="bold" text-anchor="middle" fill="#111" stroke="#111" stroke-width="0.3">*</text>
<line x1="100.4" y1="371.2" x2="108.5" y2="371.2" stroke="#222" stroke-width="1.5"/>
<line x1="100.4" y1="368.85" x2="100.4" y2="373.55" stroke="#222" stroke-width="1.5"/>
<line x1="108.5" y1="368.85" x2="108.5" y2="373.55" stroke="#222" stroke-width="1.5"/>
<text x="104.6" y="367.32" font-size="7.5" font-weight="bold" text-anchor="middle" fill="#111" stroke="#111" stroke-width="0.3">*</text>
<line x1="124.6" y1="390.8" x2="134.3" y2="390.8" stroke="#222" stroke-width="1.5"/>
<line x1="124.6" y1="388.5" x2="124.6" y2="393.1" stroke="#222" stroke-width="1.5"/>
<line x1="134.3" y1="388.5" x2="134.3" y2="393.1" stroke="#222" stroke-width="1.5"/>
<text x="130.1" y="388.43" font-size="7.5" font-weight="bold" text-anchor="middle" fill="#111" stroke="#111" stroke-width="0.3">*</text>
<line x1="145.4" y1="390.8" x2="153.75" y2="390.8" stroke="#222" stroke-width="1.5"/>
<line x1="145.4" y1="388.5" x2="145.4" y2="393.1" stroke="#222" stroke-width="1.5"/>
<line x1="153.75" y1="388.5" x2="153.75" y2="393.1" stroke="#222" stroke-width="1.5"/>
<text x="147.5" y="387.12" font-size="7.5" font-weight="bold" text-anchor="middle" fill="#111" stroke="#111" stroke-width="0.3">*</text>
<text x="151.7" y="387.12" font-size="7.5" font-weight="bold" text-anchor="middle" fill="#111" stroke="#111" stroke-width="0.3">*</text>
<circle cx="122.8" cy="348.9" r="1.6" fill="#fff" stroke="#111" stroke-width="1.5"/>
<text x="132.9" y="351.3" font-size="6.7" text-anchor="start" fill="#333" stroke="#333" stroke-width="0.12">Normal Control</text>
<rect x="121.2" y="354.3" width="3.2" height="3.2" fill="#fff" stroke="#111" stroke-width="1.5"/>
<text x="132.9" y="358.3" font-size="6.7" text-anchor="start" fill="#333" stroke="#333" stroke-width="0.12">Normal Jag Fc</text>
<polygon points="122.8,363.93 121.1,366.88 124.5,366.88" fill="#fff" stroke="#111" stroke-width="1.45" stroke-linejoin="miter"/>
<text x="132.9" y="368.1" font-size="6.7" text-anchor="start" fill="#333" stroke="#333" stroke-width="0.12">CML Control</text>
<polygon points="122.8,374.47 121.1,371.52 124.5,371.52" fill="#fff" stroke="#111" stroke-width="1.45" stroke-linejoin="miter"/>
<text x="132.9" y="375.1" font-size="6.7" text-anchor="start" fill="#333" stroke="#333" stroke-width="0.12">CML Jag Fc</text>
<circle cx="35" cy="395.5" r="1.6" fill="#fff" stroke="#111" stroke-width="1.55"/>
<circle cx="39.5" cy="395.5" r="1.6" fill="#fff" stroke="#111" stroke-width="1.55"/>
<circle cx="37.5" cy="397.1" r="1.6" fill="#fff" stroke="#111" stroke-width="1.55"/>
<circle cx="38.3" cy="400.75" r="1.6" fill="#fff" stroke="#111" stroke-width="1.55"/>
<circle cx="37.1" cy="396.3" r="1.6" fill="#fff" stroke="#111" stroke-width="1.55"/>
<rect x="45.65" y="389.55" width="3.1" height="3.1" fill="#fff" stroke="#111" stroke-width="1.55"/>
<rect x="43.15" y="393.55" width="3.1" height="3.1" fill="#fff" stroke="#111" stroke-width="1.55"/>
<rect x="48.45" y="392.35" width="3.1" height="3.1" fill="#fff" stroke="#111" stroke-width="1.55"/>
<rect x="45.2" y="397.55" width="3.1" height="3.1" fill="#fff" stroke="#111" stroke-width="1.55"/>
<rect x="45.65" y="394.35" width="3.1" height="3.1" fill="#fff" stroke="#111" stroke-width="1.55"/>
<polygon points="57,396.42 55.2,399.55 58.8,399.55" fill="#fff" stroke="#111" stroke-width="1.47" stroke-linejoin="miter"/>
<polygon points="54.4,400.52 52.6,403.65 56.2,403.65" fill="#fff" stroke="#111" stroke-width="1.47" stroke-linejoin="miter"/>
<polygon points="59.3,400.12 57.5,403.25 61.1,403.25" fill="#fff" stroke="#111" stroke-width="1.47" stroke-linejoin="miter"/>
<polygon points="56.8,401.72 55,404.85 58.6,404.85" fill="#fff" stroke="#111" stroke-width="1.47" stroke-linejoin="miter"/>
<polygon points="55.6,404.92 53.8,408.05 57.4,408.05" fill="#fff" stroke="#111" stroke-width="1.47" stroke-linejoin="miter"/>
<polygon points="63.7,396.18 61.9,393.05 65.5,393.05" fill="#fff" stroke="#111" stroke-width="1.47" stroke-linejoin="miter"/>
<polygon points="67.75,397.38 65.95,394.25 69.55,394.25" fill="#fff" stroke="#111" stroke-width="1.47" stroke-linejoin="miter"/>
<polygon points="65.7,399.38 63.9,396.25 67.5,396.25" fill="#fff" stroke="#111" stroke-width="1.47" stroke-linejoin="miter"/>
<polygon points="66.1,401.38 64.3,398.25 67.9,398.25" fill="#fff" stroke="#111" stroke-width="1.47" stroke-linejoin="miter"/>
<polygon points="66.1,407.48 64.3,404.35 67.9,404.35" fill="#fff" stroke="#111" stroke-width="1.47" stroke-linejoin="miter"/>
<line x1="33.7" y1="397" x2="41.3" y2="397" stroke="#222" stroke-width="1.1"/>
<line x1="43.2" y1="395.5" x2="51.2" y2="395.5" stroke="#222" stroke-width="1.1"/>
<line x1="53" y1="403" x2="60.6" y2="403" stroke="#222" stroke-width="1.1"/>
<line x1="62" y1="398" x2="69.6" y2="398" stroke="#222" stroke-width="1.1"/>
<circle cx="81.7" cy="375.25" r="1.6" fill="#fff" stroke="#111" stroke-width="1.55"/>
<circle cx="81.7" cy="382.5" r="1.6" fill="#fff" stroke="#111" stroke-width="1.55"/>
<circle cx="81.7" cy="384.5" r="1.6" fill="#fff" stroke="#111" stroke-width="1.55"/>
<circle cx="81.3" cy="386.6" r="1.6" fill="#fff" stroke="#111" stroke-width="1.55"/>
<circle cx="81.7" cy="390.2" r="1.6" fill="#fff" stroke="#111" stroke-width="1.55"/>
<rect x="89.45" y="386.25" width="3.1" height="3.1" fill="#fff" stroke="#111" stroke-width="1.55"/>
<rect x="86.55" y="389.05" width="3.1" height="3.1" fill="#fff" stroke="#111" stroke-width="1.55"/>
<rect x="92.25" y="389.05" width="3.1" height="3.1" fill="#fff" stroke="#111" stroke-width="1.55"/>
<rect x="89.45" y="391.85" width="3.1" height="3.1" fill="#fff" stroke="#111" stroke-width="1.55"/>
<rect x="88.65" y="393.85" width="3.1" height="3.1" fill="#fff" stroke="#111" stroke-width="1.55"/>
<polygon points="97.4,379.82 95.6,382.95 99.2,382.95" fill="#fff" stroke="#111" stroke-width="1.47" stroke-linejoin="miter"/>
<polygon points="101.9,381.42 100.1,384.55 103.7,384.55" fill="#fff" stroke="#111" stroke-width="1.47" stroke-linejoin="miter"/>
<polygon points="100.7,383.42 98.9,386.55 102.5,386.55" fill="#fff" stroke="#111" stroke-width="1.47" stroke-linejoin="miter"/>
<polygon points="99.4,386.32 97.6,389.45 101.2,389.45" fill="#fff" stroke="#111" stroke-width="1.47" stroke-linejoin="miter"/>
<polygon points="100.3,389.12 98.5,392.25 102.1,392.25" fill="#fff" stroke="#111" stroke-width="1.47" stroke-linejoin="miter"/>
<polygon points="109.5,385.58 107.7,382.45 111.3,382.45" fill="#fff" stroke="#111" stroke-width="1.47" stroke-linejoin="miter"/>
<polygon points="107.1,390.88 105.3,387.75 108.9,387.75" fill="#fff" stroke="#111" stroke-width="1.47" stroke-linejoin="miter"/>
<polygon points="112,390.88 110.2,387.75 113.8,387.75" fill="#fff" stroke="#111" stroke-width="1.47" stroke-linejoin="miter"/>
<polygon points="109.5,392.08 107.7,388.95 111.3,388.95" fill="#fff" stroke="#111" stroke-width="1.47" stroke-linejoin="miter"/>
<polygon points="108,397.28 106.2,394.15 109.8,394.15" fill="#fff" stroke="#111" stroke-width="1.47" stroke-linejoin="miter"/>
<line x1="78.1" y1="384" x2="85.3" y2="384" stroke="#222" stroke-width="1.1"/>
<line x1="87" y1="391.5" x2="95" y2="391.5" stroke="#222" stroke-width="1.1"/>
<line x1="96.2" y1="386" x2="103.8" y2="386" stroke="#222" stroke-width="1.1"/>
<line x1="105.3" y1="389" x2="113.7" y2="389" stroke="#222" stroke-width="1.1"/>
<circle cx="125.3" cy="399.7" r="1.6" fill="#fff" stroke="#111" stroke-width="1.55"/>
<circle cx="122.4" cy="402.5" r="1.6" fill="#fff" stroke="#111" stroke-width="1.55"/>
<circle cx="128.1" cy="402.5" r="1.6" fill="#fff" stroke="#111" stroke-width="1.55"/>
<circle cx="125.3" cy="402.5" r="1.6" fill="#fff" stroke="#111" stroke-width="1.55"/>
<circle cx="124.9" cy="406.9" r="1.6" fill="#fff" stroke="#111" stroke-width="1.55"/>
<rect x="133.45" y="400.15" width="3.1" height="3.1" fill="#fff" stroke="#111" stroke-width="1.55"/>
<rect x="132.2" y="402.55" width="3.1" height="3.1" fill="#fff" stroke="#111" stroke-width="1.55"/>
<rect x="133.45" y="404.95" width="3.1" height="3.1" fill="#fff" stroke="#111" stroke-width="1.55"/>
<rect x="135.85" y="408.65" width="3.1" height="3.1" fill="#fff" stroke="#111" stroke-width="1.55"/>
<rect x="131.35" y="411.85" width="3.1" height="3.1" fill="#fff" stroke="#111" stroke-width="1.55"/>
<polygon points="144.25,394.12 142.45,397.25 146.05,397.25" fill="#fff" stroke="#111" stroke-width="1.47" stroke-linejoin="miter"/>
<polygon points="143.85,399.02 142.05,402.15 145.65,402.15" fill="#fff" stroke="#111" stroke-width="1.47" stroke-linejoin="miter"/>
<polygon points="145.5,399.82 143.7,402.95 147.3,402.95" fill="#fff" stroke="#111" stroke-width="1.47" stroke-linejoin="miter"/>
<polygon points="146.7,404.22 144.9,407.35 148.5,407.35" fill="#fff" stroke="#111" stroke-width="1.47" stroke-linejoin="miter"/>
<polygon points="142.6,407.52 140.8,410.65 144.4,410.65" fill="#fff" stroke="#111" stroke-width="1.47" stroke-linejoin="miter"/>
<polygon points="153.5,399.98 151.7,396.85 155.3,396.85" fill="#fff" stroke="#111" stroke-width="1.47" stroke-linejoin="miter"/>
<polygon points="152.7,403.98 150.9,400.85 154.5,400.85" fill="#fff" stroke="#111" stroke-width="1.47" stroke-linejoin="miter"/>
<polygon points="156,414.48 154.2,411.35 157.8,411.35" fill="#fff" stroke="#111" stroke-width="1.47" stroke-linejoin="miter"/>
<polygon points="152.3,417.68 150.5,414.55 154.1,414.55" fill="#fff" stroke="#111" stroke-width="1.47" stroke-linejoin="miter"/>
<line x1="121.6" y1="403" x2="128.8" y2="403" stroke="#222" stroke-width="1.1"/>
<line x1="131.2" y1="407" x2="138.8" y2="407" stroke="#222" stroke-width="1.1"/>
<line x1="141" y1="403" x2="148" y2="403" stroke="#222" stroke-width="1.1"/>
<line x1="150.2" y1="406.9" x2="157.2" y2="406.9" stroke="#222" stroke-width="1.1"/>
<line x1="152" y1="400.5" x2="155" y2="400.5" stroke="#222" stroke-width="1"/>
<line x1="152" y1="412" x2="155" y2="412" stroke="#222" stroke-width="1"/>
<line x1="153.5" y1="400.5" x2="153.5" y2="412" stroke="#222" stroke-width="1"/>
<text x="196.8" y="348" font-size="11" font-weight="bold" text-anchor="start" fill="#111" stroke="#111" stroke-width="0.3">F</text>
<line x1="225.8" y1="360.9" x2="225.8" y2="449.8" stroke="#5a5a5a" stroke-width="1.7"/>
<line x1="223.6" y1="361.36" x2="225.8" y2="361.36" stroke="#5a5a5a" stroke-width="1.7"/>
<text x="222.29" y="363.94" font-size="7.2" font-weight="bold" text-anchor="end" fill="#111" stroke="#111" stroke-width="0.3">8</text>
<line x1="223.6" y1="383.32" x2="225.8" y2="383.32" stroke="#5a5a5a" stroke-width="1.7"/>
<text x="222.29" y="385.9" font-size="7.2" font-weight="bold" text-anchor="end" fill="#111" stroke="#111" stroke-width="0.3">6</text>
<line x1="223.6" y1="405.28" x2="225.8" y2="405.28" stroke="#5a5a5a" stroke-width="1.7"/>
<text x="222.29" y="407.86" font-size="7.2" font-weight="bold" text-anchor="end" fill="#111" stroke="#111" stroke-width="0.3">4</text>
<line x1="223.6" y1="427.24" x2="225.8" y2="427.24" stroke="#5a5a5a" stroke-width="1.7"/>
<text x="222.29" y="429.82" font-size="7.2" font-weight="bold" text-anchor="end" fill="#111" stroke="#111" stroke-width="0.3">2</text>
<line x1="223.6" y1="449.2" x2="225.8" y2="449.2" stroke="#5a5a5a" stroke-width="1.7"/>
<text x="222.29" y="451.78" font-size="7.2" font-weight="bold" text-anchor="end" fill="#111" stroke="#111" stroke-width="0.3">0</text>
<text x="206.8" y="404.9" font-size="8.4" text-anchor="middle" fill="#222" stroke="#222" stroke-width="0.12" transform="rotate(-90 206.8 404.9)">% of Annexin V + cells</text>
<line x1="225.2" y1="449.2" x2="327.7" y2="449.2" stroke="#262626" stroke-width="1.4"/>
<line x1="251.1" y1="449.2" x2="251.1" y2="451" stroke="#262626" stroke-width="1.4"/>
<line x1="301.9" y1="449.2" x2="301.9" y2="451" stroke="#262626" stroke-width="1.4"/>
<text x="253.4" y="459" font-size="9.5" font-weight="bold" text-anchor="end" fill="#111" stroke="#111" stroke-width="0.3" transform="rotate(-45 253.4 459)">NL</text>
<text x="304.2" y="459" font-size="9.5" font-weight="bold" text-anchor="end" fill="#111" stroke="#111" stroke-width="0.3" transform="rotate(-45 304.2 459)">CML</text>
<line x1="241.3" y1="364.6" x2="257.4" y2="364.6" stroke="#333" stroke-width="1.3"/>
<line x1="241.3" y1="360.95" x2="241.3" y2="368.25" stroke="#333" stroke-width="1.3"/>
<line x1="257.4" y1="360.95" x2="257.4" y2="368.25" stroke="#333" stroke-width="1.3"/>
<text x="249.3" y="361.8" font-size="8.2" text-anchor="middle" fill="#222" stroke="#222" stroke-width="0.12">ns</text>
<line x1="293.1" y1="379.75" x2="310" y2="379.75" stroke="#333" stroke-width="1.3"/>
<line x1="293.1" y1="376.1" x2="293.1" y2="383.4" stroke="#333" stroke-width="1.3"/>
<line x1="310" y1="376.1" x2="310" y2="383.4" stroke="#333" stroke-width="1.3"/>
<text x="302.3" y="375.8" font-size="8.2" text-anchor="middle" fill="#222" stroke="#222" stroke-width="0.12">ns</text>
<circle cx="310.6" cy="351.2" r="1.6" fill="#111"/>
<text x="321.1" y="354.1" font-size="8.2" text-anchor="start" fill="#222" stroke="#222" stroke-width="0.12">Control</text>
<rect x="309.15" y="358.15" width="2.9" height="2.9" fill="#111"/>
<text x="321.1" y="362.5" font-size="8.2" text-anchor="start" fill="#222" stroke="#222" stroke-width="0.12">Jag Fc</text>
<circle cx="241.8" cy="375.1" r="1.65" fill="#111"/>
<circle cx="241.8" cy="391.5" r="1.65" fill="#111"/>
<circle cx="244.7" cy="407.1" r="1.65" fill="#111"/>
<circle cx="239.1" cy="410.1" r="1.65" fill="#111"/>
<circle cx="241.8" cy="402.5" r="1.65" fill="#111"/>
<line x1="235.2" y1="397.4" x2="248" y2="397.4" stroke="#222" stroke-width="1.1"/>
<line x1="239.2" y1="391.5" x2="244.4" y2="391.5" stroke="#222" stroke-width="1.3"/>
<line x1="239.2" y1="402.8" x2="244.4" y2="402.8" stroke="#222" stroke-width="1.3"/>
<line x1="241.8" y1="391.5" x2="241.8" y2="402.8" stroke="#222" stroke-width="1.3"/>
<rect x="259.2" y="383.5" width="3" height="3" fill="#111"/>
<rect x="259.2" y="388.6" width="3" height="3" fill="#111"/>
<rect x="257" y="395.5" width="3" height="3" fill="#111"/>
<rect x="261.7" y="398.8" width="3" height="3" fill="#111"/>
<rect x="259.2" y="408.5" width="3" height="3" fill="#111"/>
<line x1="254.9" y1="397" x2="267.3" y2="397" stroke="#222" stroke-width="1.1"/>
<line x1="258.3" y1="392.3" x2="263.5" y2="392.3" stroke="#222" stroke-width="1.2"/>
<line x1="258.3" y1="401" x2="263.5" y2="401" stroke="#222" stroke-width="1.2"/>
<line x1="260.9" y1="392.3" x2="260.9" y2="401" stroke="#222" stroke-width="1.2"/>
<circle cx="292.5" cy="404" r="1.65" fill="#111"/>
<circle cx="298.3" cy="412.7" r="1.65" fill="#111"/>
<circle cx="295.4" cy="416.1" r="1.65" fill="#111"/>
<circle cx="289.8" cy="419.6" r="1.65" fill="#111"/>
<circle cx="291.5" cy="412.7" r="1.65" fill="#111"/>
<line x1="286.7" y1="412.7" x2="299.3" y2="412.7" stroke="#222" stroke-width="1.1"/>
<line x1="290.2" y1="409.6" x2="295.4" y2="409.6" stroke="#222" stroke-width="1.1"/>
<line x1="290.2" y1="415.6" x2="295.4" y2="415.6" stroke="#222" stroke-width="1.1"/>
<line x1="292.8" y1="409.6" x2="292.8" y2="415.6" stroke="#222" stroke-width="1.1"/>
<rect x="310.4" y="394.75" width="3" height="3" fill="#111"/>
<rect x="310" y="403.7" width="3" height="3" fill="#111"/>
<rect x="312.3" y="413.5" width="3" height="3" fill="#111"/>
<rect x="307.7" y="417.9" width="3" height="3" fill="#111"/>
<rect x="310" y="407.5" width="3" height="3" fill="#111"/>
<line x1="305.7" y1="409" x2="317.3" y2="409" stroke="#222" stroke-width="1.1"/>
<line x1="309" y1="405.2" x2="314" y2="405.2" stroke="#222" stroke-width="1.1"/>
<line x1="309" y1="412.7" x2="314" y2="412.7" stroke="#222" stroke-width="1.1"/>
<line x1="311.5" y1="405.2" x2="311.5" y2="412.7" stroke="#222" stroke-width="1.1"/>
<text x="358.6" y="348.2" font-size="11" font-weight="bold" text-anchor="start" fill="#111" stroke="#111" stroke-width="0.3">G</text>
<line x1="396.5" y1="357.6" x2="396.5" y2="449" stroke="#262626" stroke-width="1.25"/>
<line x1="394.3" y1="358.22" x2="396.5" y2="358.22" stroke="#262626" stroke-width="1.25"/>
<text x="393.06" y="360.58" font-size="6.6" font-weight="bold" text-anchor="end" fill="#111" stroke="#111" stroke-width="0.3">1.1</text>
<line x1="394.3" y1="373.25" x2="396.5" y2="373.25" stroke="#262626" stroke-width="1.25"/>
<text x="393.06" y="375.61" font-size="6.6" font-weight="bold" text-anchor="end" fill="#111" stroke="#111" stroke-width="0.3">1.0</text>
<line x1="394.3" y1="388.28" x2="396.5" y2="388.28" stroke="#262626" stroke-width="1.25"/>
<text x="393.06" y="390.64" font-size="6.6" font-weight="bold" text-anchor="end" fill="#111" stroke="#111" stroke-width="0.3">0.9</text>
<line x1="394.3" y1="403.31" x2="396.5" y2="403.31" stroke="#262626" stroke-width="1.25"/>
<text x="393.06" y="405.67" font-size="6.6" font-weight="bold" text-anchor="end" fill="#111" stroke="#111" stroke-width="0.3">0.8</text>
<line x1="394.3" y1="418.34" x2="396.5" y2="418.34" stroke="#262626" stroke-width="1.25"/>
<text x="393.06" y="420.7" font-size="6.6" font-weight="bold" text-anchor="end" fill="#111" stroke="#111" stroke-width="0.3">0.7</text>
<line x1="394.3" y1="433.37" x2="396.5" y2="433.37" stroke="#262626" stroke-width="1.25"/>
<text x="393.06" y="435.73" font-size="6.6" font-weight="bold" text-anchor="end" fill="#111" stroke="#111" stroke-width="0.3">0.6</text>
<line x1="394.3" y1="448.4" x2="396.5" y2="448.4" stroke="#262626" stroke-width="1.25"/>
<text x="393.06" y="450.76" font-size="6.6" font-weight="bold" text-anchor="end" fill="#111" stroke="#111" stroke-width="0.3">0.5</text>
<text x="372.9" y="402.8" font-size="8.6" font-weight="bold" text-anchor="middle" fill="#111" stroke="#111" stroke-width="0.3" transform="rotate(-90 372.9 402.8)">Cell growth</text>
<line x1="395.9" y1="448.4" x2="471.3" y2="448.4" stroke="#262626" stroke-width="1.25"/>
<line x1="414.9" y1="448.4" x2="414.9" y2="450.2" stroke="#262626" stroke-width="1.25"/>
<line x1="452.9" y1="448.4" x2="452.9" y2="450.2" stroke="#262626" stroke-width="1.25"/>
<text x="417.2" y="458.2" font-size="9.5" font-weight="bold" text-anchor="end" fill="#111" stroke="#111" stroke-width="0.3" transform="rotate(-45 417.2 458.2)">NL</text>
<text x="455.2" y="458.2" font-size="9.5" font-weight="bold" text-anchor="end" fill="#111" stroke="#111" stroke-width="0.3" transform="rotate(-45 455.2 458.2)">CML</text>
<line x1="405.4" y1="364.8" x2="424.6" y2="364.8" stroke="#333" stroke-width="1.3"/>
<line x1="405.4" y1="362.5" x2="405.4" y2="367.1" stroke="#333" stroke-width="1.3"/>
<line x1="424.6" y1="362.5" x2="424.6" y2="367.1" stroke="#333" stroke-width="1.3"/>
<text x="412.4" y="363.08" font-size="8" font-weight="bold" text-anchor="middle" fill="#111" stroke="#111" stroke-width="0.3">*</text>
<text x="416.6" y="363.08" font-size="8" font-weight="bold" text-anchor="middle" fill="#111" stroke="#111" stroke-width="0.3">*</text>
<line x1="444.4" y1="363.8" x2="465.5" y2="363.8" stroke="#333" stroke-width="1.3"/>
<line x1="444.4" y1="361.25" x2="444.4" y2="366.35" stroke="#333" stroke-width="1.3"/>
<line x1="465.5" y1="361.25" x2="465.5" y2="366.35" stroke="#333" stroke-width="1.3"/>
<text x="451.1" y="362.18" font-size="8" font-weight="bold" text-anchor="middle" fill="#111" stroke="#111" stroke-width="0.3">*</text>
<text x="455.5" y="362.18" font-size="8" font-weight="bold" text-anchor="middle" fill="#111" stroke="#111" stroke-width="0.3">*</text>
<polygon points="475,350.23 473.4,353.01 476.6,353.01" fill="#111"/>
<text x="485.3" y="354.8" font-size="8.2" text-anchor="start" fill="#222" stroke="#222" stroke-width="0.12">Control</text>
<polygon points="475,362.27 473.4,359.49 476.6,359.49" fill="#111"/>
<text x="485.3" y="363.5" font-size="8.2" text-anchor="start" fill="#222" stroke="#222" stroke-width="0.12">Jag Fc</text>
<ellipse cx="408.3" cy="373.4" rx="3.9" ry="1.5" fill="#141414"/>
<polygon points="405.2,371.83 403.7,374.44 406.7,374.44" fill="#111"/>
<polygon points="411.4,371.83 409.9,374.44 412.9,374.44" fill="#111"/>
<line x1="403.7" y1="373.3" x2="412.9" y2="373.3" stroke="#222" stroke-width="1"/>
<polygon points="419.9,394.63 418.15,391.58 421.65,391.58" fill="#111"/>
<polygon points="424.7,394.63 422.95,391.58 426.45,391.58" fill="#111"/>
<polygon points="422.4,403.43 420.65,400.38 424.15,400.38" fill="#111"/>
<polygon points="419.9,408.83 418.15,405.78 421.65,405.78" fill="#111"/>
<polygon points="424.7,407.43 422.95,404.38 426.45,404.38" fill="#111"/>
<line x1="417.8" y1="400.3" x2="426.9" y2="400.3" stroke="#222" stroke-width="1"/>
<ellipse cx="446.0" cy="373.4" rx="3.9" ry="1.5" fill="#141414"/>
<polygon points="442.9,371.83 441.4,374.44 444.4,374.44" fill="#111"/>
<polygon points="449.1,371.83 447.6,374.44 450.6,374.44" fill="#111"/>
<line x1="441.4" y1="373.3" x2="450.6" y2="373.3" stroke="#222" stroke-width="1"/>
<polygon points="457.1,388.53 455.35,385.48 458.85,385.48" fill="#111"/>
<polygon points="462.8,388.53 461.05,385.48 464.55,385.48" fill="#111"/>
<polygon points="460,421.53 458.25,418.48 461.75,418.48" fill="#111"/>
<polygon points="457.8,433.43 456.05,430.38 459.55,430.38" fill="#111"/>
<polygon points="462,431.33 460.25,428.28 463.75,428.28" fill="#111"/>
<line x1="455.6" y1="411" x2="464.6" y2="411" stroke="#222" stroke-width="1"/>
</svg>
</body></html>
